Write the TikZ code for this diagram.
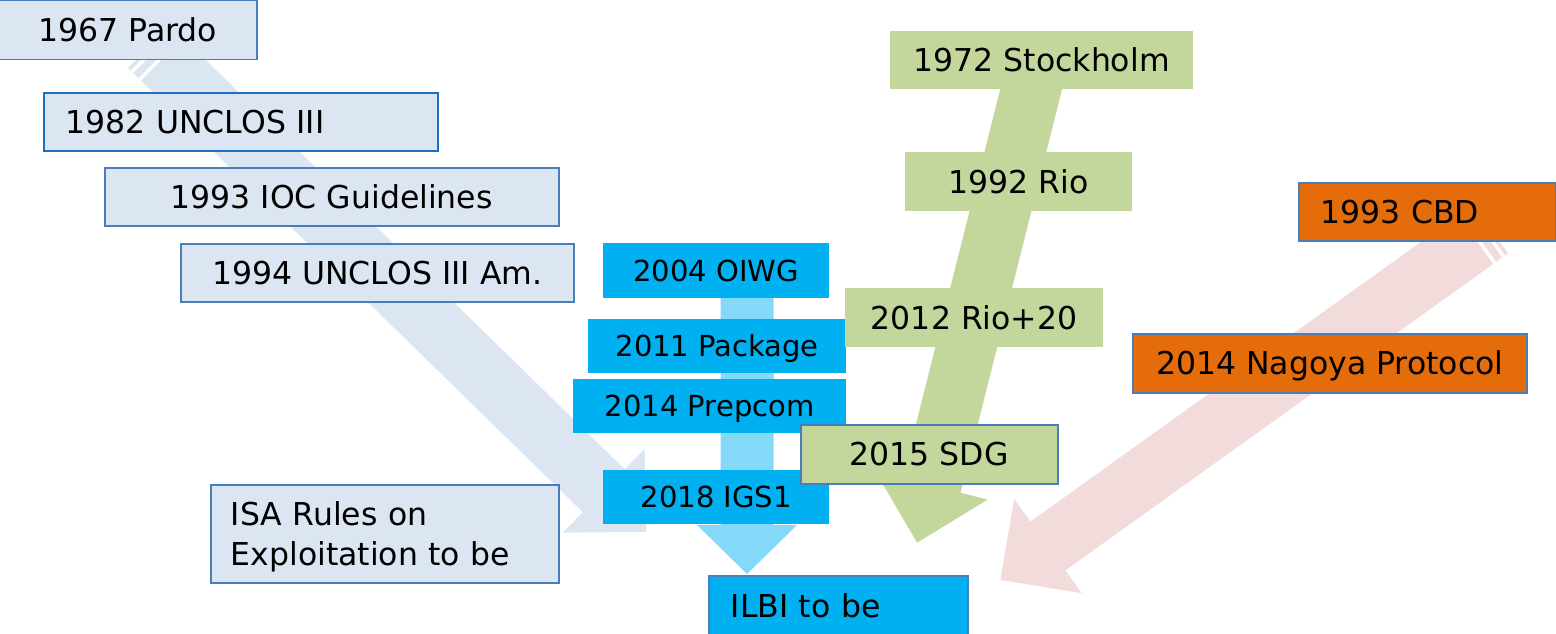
\documentclass[tikz,border=0pt]{standalone}
\usepackage{fontspec}
\setmainfont{DejaVu Sans}
\definecolor{greyfill}{HTML}{DCE6F2}
\definecolor{bordblue}{HTML}{4A7EBB}
\definecolor{bordblue2}{HTML}{1F6FC0}
\definecolor{greenfill}{HTML}{C3D69B}
\definecolor{orangefill}{HTML}{E46C0A}
\definecolor{pinkfill}{HTML}{F2DCDB}
\definecolor{cyanfill}{HTML}{00B0F0}
\definecolor{cyanarrow}{HTML}{85D9F8}
\newcommand{\blockarrow}[7]{%
  \begin{scope}[shift={(#1)},rotate=#2]
    \fill[#7] (0,-#4) -- ({#3-#6},-#4) -- ({#3-#6},-#5) -- (#3,0) -- ({#3-#6},#5) -- ({#3-#6},#4) -- (0,#4) -- cycle;
  \end{scope}}
\newcommand{\stripedarrow}[7]{%
  \begin{scope}[shift={(#1)},rotate=#2]
    \fill[#7] (18.3,-#4) -- ({#3-#6},-#4) -- ({#3-#6},-#5) -- (#3,0) -- ({#3-#6},#5) -- ({#3-#6},#4) -- (18.3,#4) -- cycle;
    \fill[#7] (0,-#4) -- (3.7,-#4) -- (3.7,#4) -- (0,#4) -- cycle;
    \fill[#7] (7.3,-#4) -- (14.6,-#4) -- (14.6,#4) -- (7.3,#4) -- cycle;
  \end{scope}}
\tikzset{
  box/.style={rectangle, inner sep=0pt, anchor=north west, text=black,
    text height=23pt, text depth=0pt, font=\fontsize{31.5}{40}\selectfont},
  greybox/.style={box, fill=greyfill, draw=bordblue, line width=1.5pt},
  cyanbox/.style={box, fill=cyanfill, text height=21.5pt, font=\fontsize{29}{36}\selectfont},
  greenbox/.style={box, fill=greenfill},
  orangebox/.style={box, fill=orangefill, draw=bordblue, line width=1.5pt},
  leftbox/.style={align=left, inner xsep=#1},
}
\begin{document}
\begin{tikzpicture}[x=1pt,y=-1pt]
\useasboundingbox (0,0) rectangle (1556,634);
% arrow anchor coordinates
\coordinate (blueTail) at (149,46.5);
\coordinate (greenTail) at (1041,50);
\coordinate (redTail) at (1490.6,229);
\coordinate (cyanTail) at (747,262);
% arrows (behind boxes)
\stripedarrow{blueTail}{-44.33}{694.8}{30}{58.5}{59}{greyfill}
\blockarrow{greenTail}{-104.12}{508}{30}{58}{59}{greenfill}
\stripedarrow{redTail}{-144.4}{603}{30}{58}{58.5}{pinkfill}
\blockarrow{cyanTail}{-90}{312}{26.5}{50}{49}{cyanarrow}
% grey boxes
\node[greybox, minimum width=258pt, minimum height=59pt] (pardo) at (-2,0) {1967 Pardo};
\node[greybox, draw=bordblue2, leftbox=22pt, text width=350pt, minimum height=58pt] (unclos) at (43,92) {1982 UNCLOS III};
\node[greybox, minimum width=454pt, minimum height=58pt] (ioc) at (104,167) {1993 IOC Guidelines};
\node[greybox, minimum width=393pt, minimum height=58pt] (unclosam) at (180,243) {1994 UNCLOS III Am.};
\node[greybox, leftbox=20pt, text width=308pt, minimum height=98pt, text depth=40pt] (isa) at (210,484) {ISA Rules on\\Exploitation to be};
% cyan boxes
\node[cyanbox, minimum width=226pt, minimum height=55pt] (oiwg) at (603,243) {2004 OIWG};
\node[cyanbox, minimum width=258pt, minimum height=54pt] (package) at (588,319) {2011 Package};
\node[cyanbox, minimum width=273pt, minimum height=54pt] (prepcom) at (573,379) {2014 Prepcom};
\node[cyanbox, minimum width=226pt, minimum height=54pt] (igs) at (603,470) {2018 IGS1};
\node[box, fill=cyanfill, draw=bordblue, line width=1.5pt, leftbox=22pt, text width=215pt, minimum height=61pt] (ilbi) at (708,575) {ILBI to be};
% green boxes
\node[greenbox, minimum width=303pt, minimum height=58pt] (stockholm) at (890,31) {1972 Stockholm};
\node[greenbox, minimum width=227pt, minimum height=59pt] (rio) at (905,152) {1992 Rio};
\node[greenbox, minimum width=258pt, minimum height=59pt] (rioplus) at (845,288) {2012 Rio+20};
\node[greenbox, draw=bordblue, line width=1.5pt, minimum width=257pt, minimum height=59pt] (sdg) at (800,424) {2015 SDG};
% orange boxes
\node[orangebox, leftbox=22pt, text width=213pt, minimum height=58pt] (cbd) at (1298,182) {1993 CBD};
\node[orangebox, minimum width=394pt, minimum height=59pt] (nagoya) at (1132,333) {2014 Nagoya Protocol};
\end{tikzpicture}
\end{document}
